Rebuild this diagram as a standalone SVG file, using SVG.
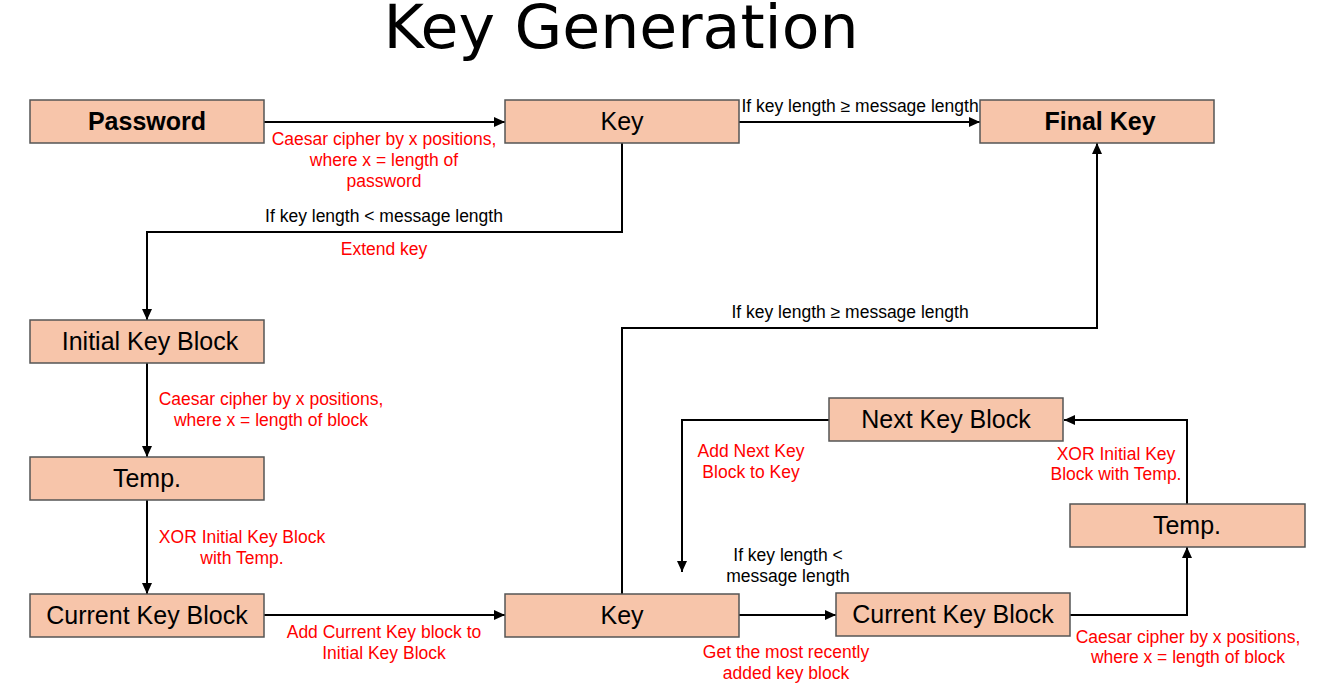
<svg xmlns="http://www.w3.org/2000/svg" width="1317" height="687" viewBox="0 0 1317 687">
<style>
.box{fill:#F7C5AA;stroke:#555555;stroke-width:1.5}
.nt{font-family:"Liberation Sans",Arial,sans-serif;font-size:25px;fill:#000;text-anchor:middle}
.b{font-weight:bold}
.lr{font-family:"Liberation Sans",Arial,sans-serif;font-size:17.5px;fill:#FF0000;text-anchor:middle}
.lb{font-family:"Liberation Sans",Arial,sans-serif;font-size:17.5px;fill:#000;text-anchor:middle}
.c{fill:none;stroke:#000;stroke-width:2}
</style>
<defs>
<marker id="ah" markerUnits="userSpaceOnUse" markerWidth="11" markerHeight="10" refX="11" refY="5" orient="auto">
<path d="M0,0 L11,5 L0,10 z" fill="#000"/>
</marker>
</defs>
<rect width="1317" height="687" fill="#ffffff"/>
<text x="621" y="48" font-family="'Liberation Sans Narrow','DejaVu Sans Condensed','Liberation Sans',sans-serif" font-size="60" text-anchor="middle" textLength="475" lengthAdjust="spacingAndGlyphs" fill="#000">Key Generation</text>

<g id="connectors">
<path class="c" d="M264,122 H505" marker-end="url(#ah)"/>
<path class="c" d="M739,122 H980" marker-end="url(#ah)"/>
<path class="c" d="M622,143 V232 H147 V320" marker-end="url(#ah)"/>
<path class="c" d="M147,363 V457" marker-end="url(#ah)"/>
<path class="c" d="M147,500 V594" marker-end="url(#ah)"/>
<path class="c" d="M264,615 H505" marker-end="url(#ah)"/>
<path class="c" d="M622,594 V328 H1097 V143" marker-end="url(#ah)"/>
<path class="c" d="M739,615 H836" marker-end="url(#ah)"/>
<path class="c" d="M1070,615 H1187 V547" marker-end="url(#ah)"/>
<path class="c" d="M1187,504 V420 H1064" marker-end="url(#ah)"/>
<path class="c" d="M829,420 H682 V572" marker-end="url(#ah)"/>
</g>

<g id="labels">
<text class="lr" x="384" y="145">Caesar cipher by x positions,</text>
<text class="lr" x="384" y="166">where x = length of</text>
<text class="lr" x="384" y="187">password</text>
<text class="lb" x="384" y="222">If key length &lt; message length</text>
<text class="lr" x="384" y="255">Extend key</text>
<text class="lb" x="860" y="112">If key length ≥ message length</text>
<text class="lb" x="850" y="318">If key length ≥ message length</text>
<text class="lr" x="271" y="405">Caesar cipher by x positions,</text>
<text class="lr" x="271" y="426">where x = length of block</text>
<text class="lr" x="242" y="543">XOR Initial Key Block</text>
<text class="lr" x="242" y="564">with Temp.</text>
<text class="lr" x="384" y="638">Add Current Key block to</text>
<text class="lr" x="384" y="659">Initial Key Block</text>
<text class="lr" x="751" y="457">Add Next Key</text>
<text class="lr" x="751" y="478">Block to Key</text>
<text class="lr" x="1116" y="460">XOR Initial Key</text>
<text class="lr" x="1116" y="480">Block with Temp.</text>
<text class="lb" x="788" y="561">If key length &lt;</text>
<text class="lb" x="788" y="582">message length</text>
<text class="lr" x="786" y="658">Get the most recently</text>
<text class="lr" x="786" y="679">added  key block</text>
<text class="lr" x="1188" y="643">Caesar cipher by x positions,</text>
<text class="lr" x="1188" y="663">where x = length of block</text>
</g>

<g id="password"><rect class="box" x="30" y="100" width="234" height="43"/><text class="nt b" x="147" y="130">Password</text></g>
<g id="key1"><rect class="box" x="505" y="100" width="234" height="43"/><text class="nt" x="622" y="130">Key</text></g>
<g id="finalkey"><rect class="box" x="980" y="100" width="234" height="43"/><text class="nt b" x="1100" y="130">Final Key</text></g>
<g id="initialkeyblock"><rect class="box" x="30" y="320" width="234" height="43"/><text class="nt" x="150" y="350">Initial Key Block</text></g>
<g id="temp1"><rect class="box" x="30" y="457" width="234" height="43"/><text class="nt" x="147" y="487">Temp.</text></g>
<g id="currentkeyblock1"><rect class="box" x="30" y="594" width="234" height="43"/><text class="nt" x="147" y="624">Current Key Block</text></g>
<g id="key2"><rect class="box" x="505" y="594" width="234" height="43"/><text class="nt" x="622" y="624">Key</text></g>
<g id="currentkeyblock2"><rect class="box" x="836" y="593" width="234" height="43"/><text class="nt" x="953" y="623">Current Key Block</text></g>
<g id="temp2"><rect class="box" x="1070" y="504" width="235" height="43"/><text class="nt" x="1187" y="534">Temp.</text></g>
<g id="nextkeyblock"><rect class="box" x="829" y="398" width="234" height="43"/><text class="nt" x="946" y="428">Next Key Block</text></g>
</svg>
